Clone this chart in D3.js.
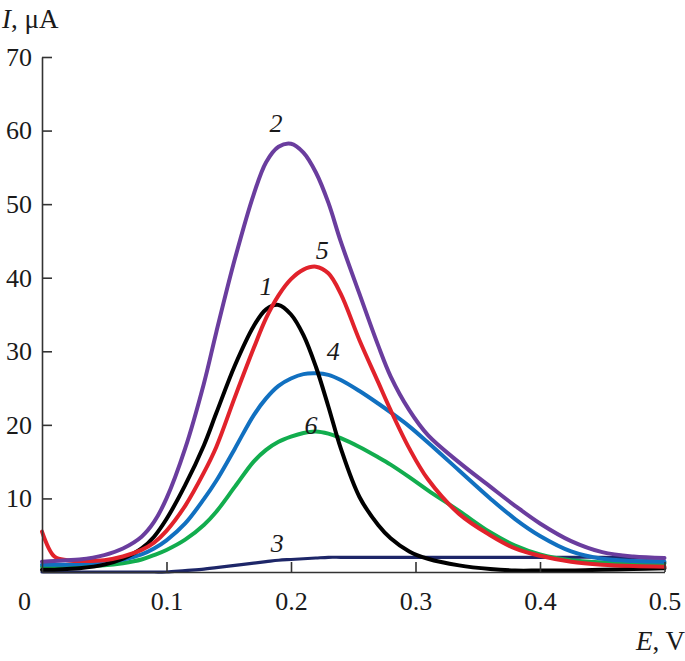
<!DOCTYPE html>
<html>
<head>
<meta charset="utf-8">
<script src="https://cdn.jsdelivr.net/npm/d3@7"></script>
<style>
  html, body { margin: 0; padding: 0; background: #fff; }
  svg { display: block; }
  text { font-family: "Liberation Serif", "Times New Roman", serif; fill: #1a1a1a; }
</style>
</head>
<body>
<svg id="chart" width="685" height="661"></svg>
<script>
// Potential grid (V)
const potential = [0, 0.01, 0.02, 0.03, 0.05, 0.065, 0.08, 0.09, 0.1, 0.115, 0.13, 0.14, 0.155, 0.17, 0.18, 0.19, 0.2, 0.21, 0.22, 0.23, 0.24, 0.255, 0.27, 0.28, 0.295, 0.31, 0.335, 0.36, 0.38, 0.4, 0.425, 0.45, 0.475, 0.5];

// Currents (µA) for each curve
const curve1 = [0.3, 0.3, 0.4, 0.5, 1.0, 1.8, 3.2, 4.8, 7.2, 11.8, 17.2, 21.6, 28.1, 33.4, 35.7, 36.3, 35.0, 32.2, 27.9, 22.5, 16.8, 10.2, 6.4, 4.6, 2.8, 1.8, 0.9, 0.4, 0.2, 0.2, 0.2, 0.3, 0.4, 0.5];
const curve2 = [1.4, 1.5, 1.6, 1.7, 2.3, 3.2, 4.8, 6.8, 10.0, 16.8, 25.6, 32.6, 42.6, 51.3, 55.7, 57.8, 58.2, 57.0, 54.3, 50.2, 44.9, 37.8, 30.8, 26.6, 22.0, 18.6, 14.9, 11.6, 9.0, 6.6, 4.2, 2.7, 2.1, 1.9];
const curve3 = [0, 0, 0, 0, 0, 0, 0, 0, 0, 0.2, 0.4, 0.6, 0.9, 1.2, 1.4, 1.6, 1.7, 1.8, 1.9, 2.0, 2.0, 2.0, 2.0, 2.0, 2.0, 2.0, 2.0, 2.0, 2.0, 2.0, 2.0, 2.0, 1.9, 1.9];
const curve4 = [1.0, 1.0, 1.0, 1.1, 1.3, 1.7, 2.4, 3.2, 4.3, 6.6, 9.9, 12.4, 16.8, 21.3, 23.6, 25.3, 26.3, 26.9, 27.0, 26.8, 26.1, 24.6, 22.9, 21.7, 19.8, 17.6, 13.8, 10.0, 7.2, 4.9, 2.8, 1.8, 1.5, 1.4];
const curve5 = [5.5, 2.1, 1.6, 1.5, 1.6, 2.1, 3.0, 4.0, 5.6, 9.0, 13.5, 17.0, 23.8, 30.4, 34.5, 37.6, 39.8, 41.1, 41.5, 40.6, 37.8, 31.5, 25.8, 22.0, 16.8, 12.6, 7.9, 5.0, 3.2, 2.2, 1.4, 1.0, 0.8, 0.7];
const curve6 = [0.7, 0.7, 0.7, 0.8, 0.9, 1.2, 1.7, 2.3, 3.0, 4.4, 6.4, 8.2, 11.6, 15.0, 16.6, 17.7, 18.4, 18.9, 19.1, 18.8, 18.2, 17.0, 15.6, 14.6, 12.9, 11.1, 8.3, 5.4, 3.6, 2.4, 1.6, 1.3, 1.2, 1.2];

// Series names, colours and drawing order
const seriesNames = ["3", "6", "4", "1", "5", "2"];
const seriesData = [curve3, curve6, curve4, curve1, curve5, curve2];
const seriesColors = ["#1d2668", "#12ad4e", "#1170c0", "#000000", "#e1222b", "#6a3d9e"];

// Curve label anchor (E, I) in data units
const labelE = [0.189, 0.216, 0.234, 0.18, 0.225, 0.188];
const labelI = [2.7, 18.8, 28.8, 37.6, 42.6, 59.8];

const xTicks = [0.1, 0.2, 0.3, 0.4, 0.5];
const xTickLabels = ["0.1", "0.2", "0.3", "0.4", "0.5"];
const yTicks = [10, 20, 30, 40, 50, 60, 70];

const svg = d3.select("#chart");
const x = d3.scaleLinear().domain([0, 0.5]).range([42, 664.5]);
const y = d3.scaleLinear().domain([0, 70]).range([572, 57]);

// Curves
const line = d3.line().x((d, i) => x(potential[i])).y(d => y(d)).curve(d3.curveCatmullRom.alpha(0.5));
seriesData.forEach((arr, k) => {
  svg.append("path")
    .datum(arr)
    .attr("d", line)
    .attr("fill", "none")
    .attr("stroke", seriesColors[k])
    .attr("stroke-width", k === 0 ? 3.2 : 4)
    .attr("stroke-linejoin", "round")
    .attr("stroke-linecap", "round");
});

// Axes
const yAxis = d3.axisLeft(y).tickValues(yTicks).tickSize(-10).tickSizeOuter(0).tickPadding(10).tickFormat(d3.format("d"));
const xAxis = d3.axisBottom(x).tickValues(xTicks).tickSize(-10).tickSizeOuter(0).tickPadding(19.5)
  .tickFormat((d, i) => xTickLabels[i]);

const gy = svg.append("g").attr("transform", `translate(${x(0)},0)`).call(yAxis);
const gx = svg.append("g").attr("transform", `translate(0,${y(0)})`).call(xAxis);
[gx, gy].forEach(g => {
  g.select(".domain").attr("stroke", "#333").attr("stroke-width", 1.6);
  g.selectAll(".tick line").attr("stroke", "#333").attr("stroke-width", 1.6);
  g.selectAll(".tick text").attr("font-size", 26).attr("font-family", "Liberation Serif, serif").attr("fill", "#1a1a1a");
});

// Origin label
svg.append("text").attr("x", 24.5).attr("y", 610).attr("text-anchor", "middle").attr("font-size", 26).text("0");

// Axis titles
const yt = svg.append("text").attr("x", 2).attr("y", 28).attr("font-size", 27);
yt.append("tspan").attr("font-style", "italic").text("I");
yt.append("tspan").text(", μA");

const xt = svg.append("text").attr("x", 685).attr("y", 650).attr("text-anchor", "end").attr("font-size", 27);
xt.append("tspan").attr("font-style", "italic").text("E");
xt.append("tspan").text(", V");

// Curve labels
seriesNames.forEach((n, k) => {
  svg.append("text")
    .attr("x", x(labelE[k]))
    .attr("y", y(labelI[k]))
    .attr("text-anchor", "middle")
    .attr("font-size", 26)
    .attr("font-style", "italic")
    .text(n);
});
</script>
</body>
</html>
